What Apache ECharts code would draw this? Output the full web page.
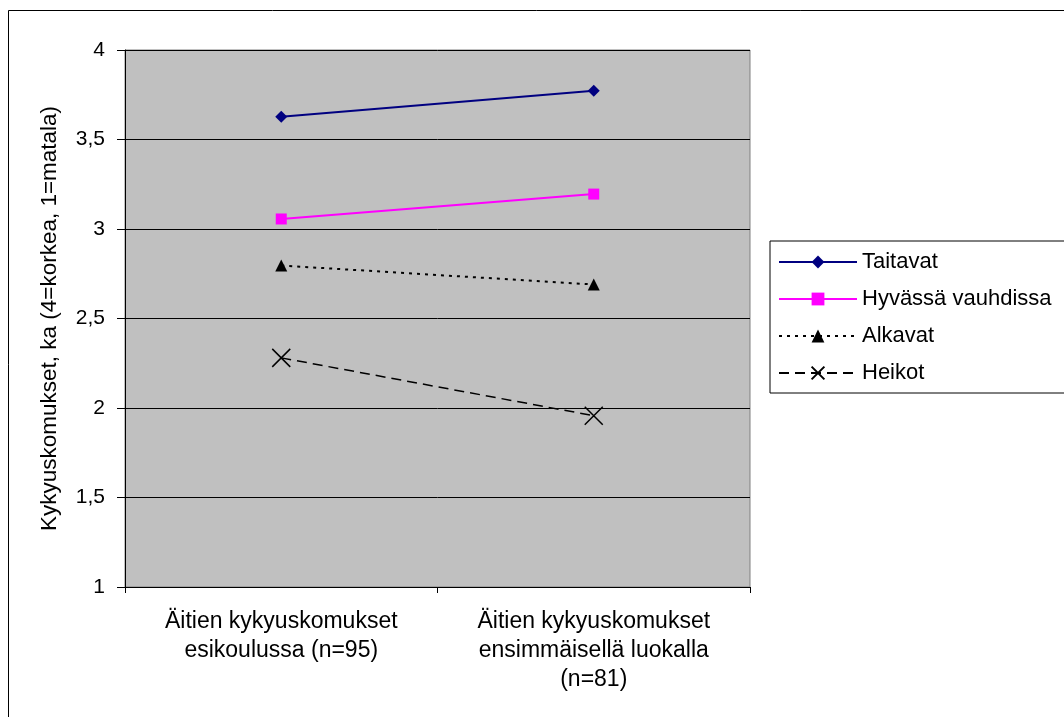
<!DOCTYPE html>
<html>
<head>
<meta charset="utf-8">
<script src="https://cdn.jsdelivr.net/npm/echarts@6/dist/echarts.min.js"></script>
<style>
html,body{margin:0;padding:0;background:#fff;}
#c{width:1064px;height:717px;}
</style>
</head>
<body>
<div id="c"></div>
<script>
const categories = ['Äitien kykyuskomukset\nesikoulussa (n=95)', 'Äitien kykyuskomukset\nensimmäisellä luokalla\n(n=81)'];
const seriesNames = ['Taitavat', 'Hyvässä vauhdissa', 'Alkavat', 'Heikot'];
const taitavat = [3.627, 3.773];
const hyvassa = [3.056, 3.195];
const alkavat = [2.796, 2.69];
const heikot = [2.28, 1.957];
const yTicks = [1, 1.5, 2, 2.5, 3, 3.5, 4];
const yAxisTitle = 'Kykyuskomukset, ka (4=korkea, 1=matala)';

const FONT = '"Liberation Sans", Arial, sans-serif';
const chart = echarts.init(document.getElementById('c'), null, {renderer: 'canvas'});
const crossPath = 'path://M0,0 L10,10 M10,0 L0,10';

chart.setOption({
  backgroundColor: '#fff',
  animation: false,
  textStyle: {fontFamily: FONT, color: '#000'},
  graphic: [{
    type: 'rect', left: 8, top: 10, z: -10,
    shape: {width: 1100, height: 800},
    style: {fill: '#fff', stroke: '#000', lineWidth: 1}
  }],
  grid: {
    left: 125, top: 50, width: 625, height: 537,
    show: true, backgroundColor: '#c0c0c0', borderColor: '#808080', borderWidth: 1
  },
  legend: {
    orient: 'vertical', left: 770, top: 241,
    padding: [10, 60, 9, 8], itemGap: 15,
    itemWidth: 78, itemHeight: 16,
    backgroundColor: '#fff', borderColor: '#000', borderWidth: 1,
    textStyle: {fontSize: 22, color: '#000', fontFamily: FONT},
    data: seriesNames
  },
  xAxis: {
    type: 'category', data: categories, boundaryGap: true,
    axisLine: {lineStyle: {color: '#000', width: 1}},
    axisTick: {show: true, length: 6, lineStyle: {color: '#000'}},
    axisLabel: {fontSize: 23, color: '#000', fontFamily: FONT, lineHeight: 29, margin: 20, interval: 0}
  },
  yAxis: {
    type: 'value', min: yTicks[0], max: yTicks[yTicks.length - 1], interval: 0.5,
    name: yAxisTitle, nameLocation: 'middle', nameGap: 64, nameRotate: 90,
    nameTextStyle: {fontSize: 22.5, color: '#000', fontFamily: FONT},
    axisLine: {show: true, lineStyle: {color: '#000', width: 1}},
    axisTick: {show: true, length: 8, lineStyle: {color: '#000'}},
    axisLabel: {fontSize: 21, color: '#000', fontFamily: FONT, margin: 20,
      formatter: v => String(v).replace('.', ',')},
    splitLine: {show: true, lineStyle: {color: '#000', width: 1}}
  },
  series: [
    {name: seriesNames[0], type: 'line', data: taitavat,
     symbol: 'diamond', symbolSize: 12,
     lineStyle: {color: '#000080', width: 2},
     itemStyle: {color: '#000080'}},
    {name: seriesNames[1], type: 'line', data: hyvassa,
     symbol: 'rect', symbolSize: 11,
     lineStyle: {color: '#ff00ff', width: 2},
     itemStyle: {color: '#ff00ff'}},
    {name: seriesNames[2], type: 'line', data: alkavat,
     symbol: 'triangle', symbolSize: 12,
     lineStyle: {color: '#000', width: 2, type: [3, 5]},
     itemStyle: {color: '#000'}},
    {name: seriesNames[3], type: 'line', data: heikot,
     symbol: crossPath, symbolSize: 18,
     lineStyle: {color: '#000', width: 1.5, type: [10, 6]},
     itemStyle: {color: 'none', borderColor: '#000', borderWidth: 1.5}}
  ]
});
</script>
</body>
</html>
